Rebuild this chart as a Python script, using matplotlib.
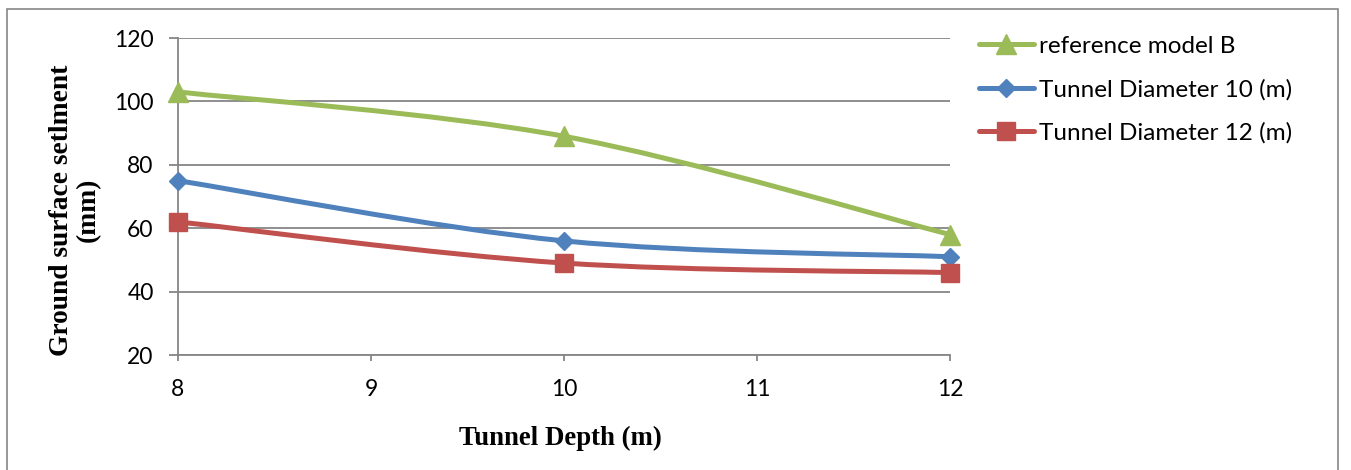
import numpy as np
import matplotlib.pyplot as plt
from matplotlib.path import Path
from matplotlib.patches import PathPatch, Rectangle
from matplotlib.lines import Line2D

depth = [8, 10, 12]
ref_model_b = [103, 89, 58]
diam_10 = [75, 56, 51]
diam_12 = [62, 49, 46]

labels = ["reference model B", "Tunnel Diameter 10 (m)", "Tunnel Diameter 12 (m)"]

green = "#9BBB59"
blue = "#4F81BD"
red = "#C0504D"
grey = "#868686"

plt.rcParams['font.family'] = ['Lato', 'DejaVu Sans']


def smooth_path(x, y):
    # cubic bezier through the points, catmull-rom style tangents (like a spreadsheet "smoothed line")
    pts = np.column_stack([x, y]).astype(float)
    n = len(pts)
    verts = [pts[0]]
    codes = [Path.MOVETO]
    for i in range(n - 1):
        p0 = pts[i - 1] if i > 0 else pts[i]
        p1 = pts[i]
        p2 = pts[i + 1]
        p3 = pts[i + 2] if i + 2 < n else pts[i + 1]
        c1 = p1 + (p2 - p0) / 6.0
        c2 = p2 - (p3 - p1) / 6.0
        verts += [c1, c2, p2]
        codes += [Path.CURVE4] * 3
    return Path(verts, codes)


fig = plt.figure(figsize=(13.51, 4.70), dpi=100)
ax = fig.add_axes([178/1351, 1-355/470, (950-178)/1351, (355-38)/470])

series = [(ref_model_b, green, "^", 14), (diam_10, blue, "D", 9), (diam_12, red, "s", 13)]
handles = []
for (vals, col, mk, ms), lab in zip(series, labels):
    ax.add_patch(PathPatch(smooth_path(depth, vals), facecolor="none", edgecolor=col,
                           linewidth=3.6, capstyle="round", zorder=3, clip_on=False))
    ax.plot(depth, vals, linestyle="none", marker=mk, markersize=ms, color=col,
            zorder=4, clip_on=False)
    handles.append(Line2D([], [], color=col, linewidth=3.6, marker=mk, markersize=ms,
                          solid_capstyle="round"))

### Achsen
ax.set_xlim(8, 12)
ax.set_ylim(20, 120)
ax.set_xticks([8, 9, 10, 11, 12])
ax.set_yticks([20, 40, 60, 80, 100, 120])
ax.grid(True, axis="y", color=grey, linewidth=1.3)
ax.set_axisbelow(True)
for s in ["top", "right"]:
    ax.spines[s].set_visible(False)
for s in ["left", "bottom"]:
    ax.spines[s].set_color(grey)
    ax.spines[s].set_linewidth(1.3)
ax.tick_params(axis="y", length=6.5, width=1.3, color=grey, pad=11, labelsize=16.5)
ax.tick_params(axis="x", length=4, width=1.3, color=grey, pad=13, labelsize=16.5)

fig.text(560/1351, 1-438/470, "Tunnel Depth (m)", ha="center", va="center",
         family="Liberation Serif", fontweight="bold", fontsize=19.3)
fig.text(75/1351, 1-210/470, "Ground surface setlment\n(mm)", ha="center", va="center",
         rotation=90, multialignment="center", family="Liberation Serif",
         fontweight="bold", fontsize=19.8, linespacing=1.1)

ax.legend(handles, labels, loc="upper left", bbox_to_anchor=(957/1351, 1-14/470),
          bbox_transform=fig.transFigure, frameon=False, fontsize=17.5,
          handlelength=2.26, handletextpad=0.2, labelspacing=0.9)

# Rahmen um die ganze Grafik
fig.patches.append(Rectangle((7/1351, -0.05), (1338-7)/1351, 1.05-9/470,
                             transform=fig.transFigure, fill=False,
                             edgecolor=grey, linewidth=1.2))

plt.savefig("out.png", dpi=100)
